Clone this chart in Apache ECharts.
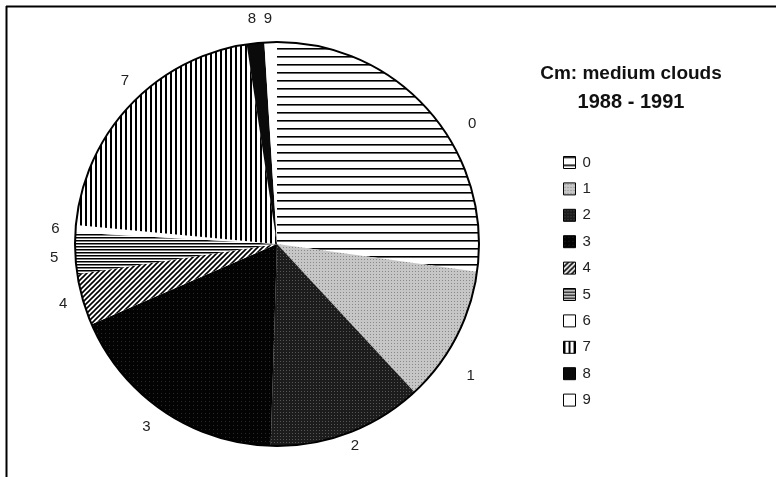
<!DOCTYPE html>
<html>
<head>
<meta charset="utf-8">
<script src="https://cdn.jsdelivr.net/npm/echarts@6/dist/echarts.min.js"></script>
<style>
  html, body { margin: 0; padding: 0; background: #fff; }
  #main { width: 776px; height: 477px; }
</style>
</head>
<body>
<div id="main"></div>
<script>
// cloud type codes and their share of observations (%)
const categories = ['0', '1', '2', '3', '4', '5', '6', '7', '8', '9']
const shares = [27.2, 10.9, 12.4, 18.0, 4.1, 3.3, 0.6, 21.1, 1.4, 1.0]

// the original program put its slice numbers a bit off the mid angle
const labelNudge = [[23, 22], [-7, 32], [-7, 0], [0, 4], [3, 0], [2, 4], [3, 1], [14, -15], [7, -10], [7, -9]]

// small canvas tiles for the old-style fill patterns
const tile = (w, h, draw) => {
  const c = document.createElement('canvas')
  c.width = w
  c.height = h
  const g = c.getContext('2d')
  g.fillStyle = '#fff'
  g.fillRect(0, 0, w, h)
  g.fillStyle = '#000'
  g.strokeStyle = '#000'
  draw(g, w, h)
  return { image: c, repeat: 'repeat' }
}

const dots = (base, dot, step) => tile(step, step, (g, w, h) => {
  g.fillStyle = base
  g.fillRect(0, 0, w, h)
  g.fillStyle = dot
  g.fillRect(1, 1, 1, 1)
})

const fills = [
  tile(8, 8, (g) => g.fillRect(0, 0, 8, 1.6)),          // 0 horizontal lines
  dots('#c6c6c6', '#888', 3),                            // 1 light stipple
  dots('#1c1c1c', '#555', 3),                            // 2 dark stipple
  dots('#030303', '#2a2a2a', 4),                         // 3 near black
  tile(5, 5, (g) => {                                    // 4 diagonal hatch
    g.lineWidth = 1.6
    g.beginPath()
    g.moveTo(-1, 6); g.lineTo(6, -1)
    g.moveTo(-1, 1); g.lineTo(1, -1)
    g.moveTo(4, 6); g.lineTo(6, 4)
    g.stroke()
  }),
  tile(4, 3.5, (g) => g.fillRect(0, 0, 4, 1.5)),         // 5 dense horizontal
  '#ffffff',                                             // 6 white
  tile(5, 5, (g) => g.fillRect(0, 0, 2, 5)),             // 7 vertical lines
  '#0a0a0a',                                             // 8 black
  '#ffffff'                                              // 9 white
]

const chart = echarts.init(document.getElementById('main'))

const pieData = categories.map((name, i) => ({
  name,
  value: shares[i],
  itemStyle: { color: fills[i] },
  label: { offset: labelNudge[i] }
}))

chart.setOption({
  animation: false,
  backgroundColor: '#fff',
  title: {
    text: 'Cm: medium clouds',
    subtext: '1988 - 1991',
    left: 626,
    top: 59,
    textAlign: 'center',
    itemGap: 9,
    textStyle: {
      fontFamily: 'Liberation Sans',
      fontSize: 19,
      fontWeight: 'bold',
      color: '#111'
    },
    subtextStyle: {
      fontFamily: 'Liberation Sans',
      fontSize: 20,
      fontWeight: 'bold',
      color: '#111'
    }
  },
  legend: {
    orient: 'vertical',
    left: 558,
    top: 150,
    itemWidth: 12,
    itemHeight: 12,
    itemGap: 11.4,
    icon: 'rect',
    data: categories,
    itemStyle: { borderColor: '#000', borderWidth: 1 },
    textStyle: {
      fontFamily: 'Liberation Sans',
      fontSize: 15,
      color: '#222',
      padding: [0, 0, 0, 2]
    }
  },
  graphic: [
    {
      type: 'line',
      shape: { x1: 6, y1: 6.5, x2: 776, y2: 6.5 },
      style: { stroke: '#000', lineWidth: 2 }
    },
    {
      type: 'line',
      shape: { x1: 6.5, y1: 6, x2: 6.5, y2: 477 },
      style: { stroke: '#000', lineWidth: 2 }
    },
    {
      type: 'circle',
      z: 10,
      shape: { cx: 277, cy: 244, r: 202 },
      style: { fill: 'none', stroke: '#000', lineWidth: 2 }
    }
  ],
  series: [
    {
      type: 'pie',
      center: [277, 244],
      radius: 202,
      startAngle: 90,
      clockwise: true,
      avoidLabelOverlap: false,
      itemStyle: { borderWidth: 0 },
      label: {
        show: true,
        position: 'outside',
        formatter: '{b}',
        fontFamily: 'Liberation Sans',
        fontSize: 15,
        color: '#222'
      },
      labelLine: { show: false, length: 14, length2: 0 },
      emphasis: { disabled: true },
      data: pieData
    }
  ]
})
</script>
</body>
</html>
